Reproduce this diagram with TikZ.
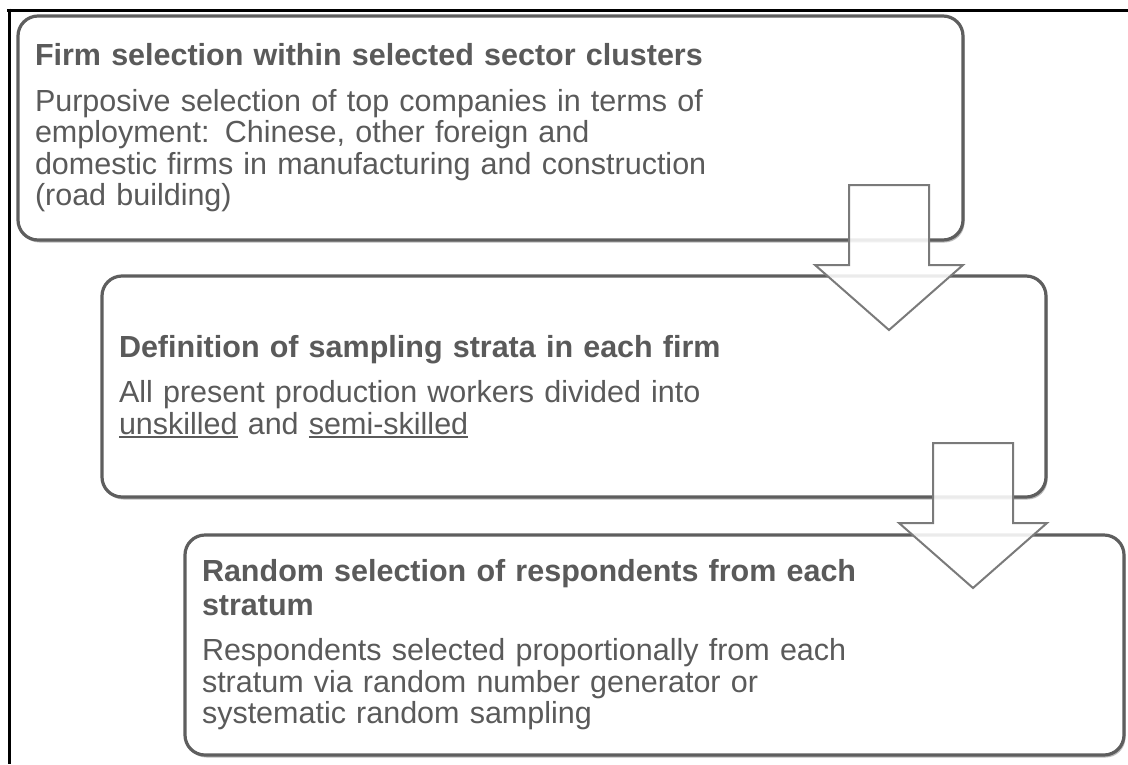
\documentclass[tikz,border=0pt]{standalone}
\usepackage{fontspec}
\setmainfont{Liberation Sans}
\usetikzlibrary{shadows}
\definecolor{txt}{HTML}{5A5A5A}
\definecolor{edgegray}{HTML}{5E5E5E}
\definecolor{arrgray}{HTML}{7A7A7A}
\newcommand\myul[1]{\leavevmode\setbox0=\hbox{#1}\rlap{\rule[-4pt]{\wd0}{1.6pt}}\box0\relax}
\begin{document}
\begin{tikzpicture}[x=1pt,y=-1pt,
  stepbox/.style={draw=edgegray, line width=3.2pt, rounded corners=20pt, fill=white,
    drop shadow={shadow xshift=1.5pt, shadow yshift=-2.5pt, opacity=0.45, fill=black!60},
    text=txt, align=left, inner xsep=17pt, inner ysep=0pt,
    font=\fontsize{30.5}{31.5}\selectfont},
  blockarrow/.style={draw=arrgray, line width=2pt, fill=white, fill opacity=0.88, line join=miter}]
\useasboundingbox (0,0) rectangle (1128,764);
\fill[white] (0,0) rectangle (1128,764);
\draw[line width=3pt, black] (7,10) -- (1128,10);
\draw[line width=3pt, black] (9,8.5) -- (9,764);

\node[stepbox, text width=911pt, minimum height=224pt] (b1) at (490.5,128)
  {\textbf{Firm selection within selected sector clusters}\\[14pt]
   Purposive selection of top companies in terms of\\
   employment: Chinese, other foreign and\\
   domestic firms in manufacturing and construction\\
   (road building)};

\node[stepbox, text width=910pt, minimum height=221pt] (b2) at (574,386.5)
  {\textbf{Definition of sampling strata in each firm}\\[14pt]
   All present production workers divided into\\
   \myul{unskilled} and \myul{semi-skilled}};

\node[stepbox, text width=905pt, minimum height=220pt] (b3) at (654.5,645)
  {\textbf{Random selection of respondents from each}\\[2pt]
   \textbf{stratum}\\[14pt]
   Respondents selected proportionally from each\\
   stratum via random number generator or\\
   systematic random sampling};

\foreach \dx/\dy/\nm in {0/0/a1, 84/258/a2}{
  \begin{scope}[shift={(\dx,\dy)}]
    \coordinate (\nm) at (889,330);
    \draw[blockarrow] (849,185) -- (929,185) -- (929,265) -- (963,265) -- (\nm)
      -- (815,265) -- (849,265) -- cycle;
  \end{scope}
}
\end{tikzpicture}
\end{document}
